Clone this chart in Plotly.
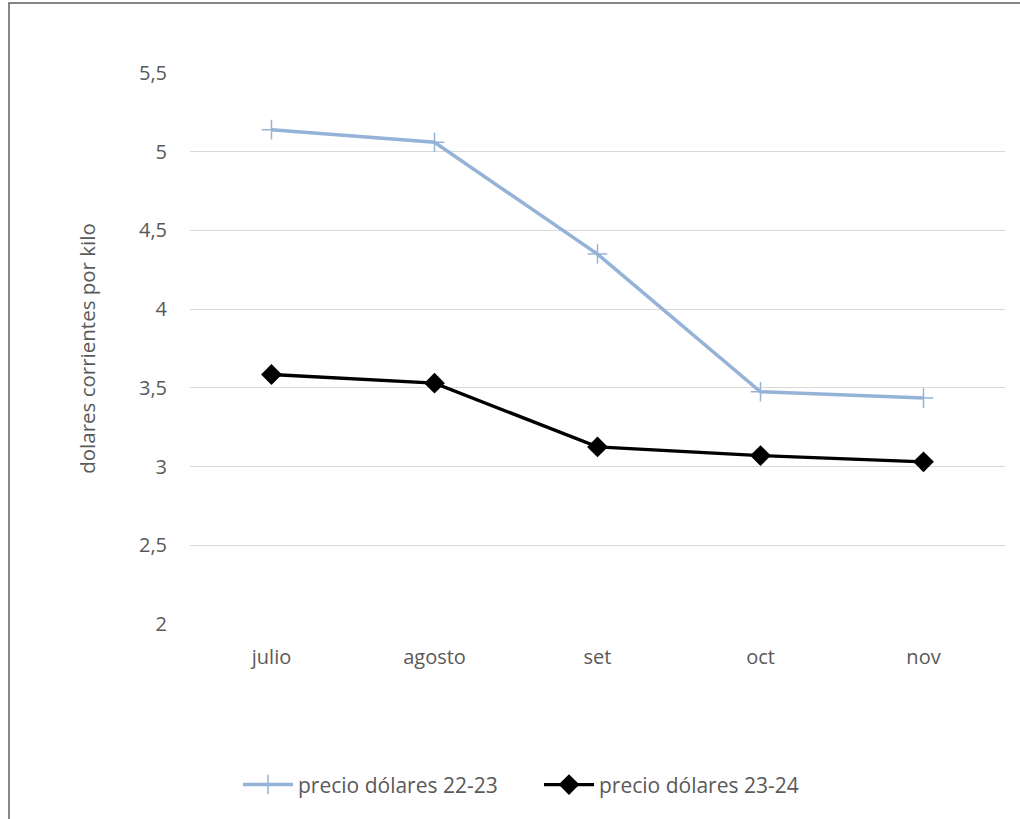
import plotly.graph_objects as go

MONTHS = ["julio", "agosto", "set", "oct", "nov"]
PRICE_22_23 = [5.14, 5.06, 4.35, 3.475, 3.435]
PRICE_23_24 = [3.585, 3.53, 3.125, 3.07, 3.03]
Y_TICKS = [2, 2.5, 3, 3.5, 4, 4.5, 5, 5.5]
Y_LABELS = ["2", "2,5", "3", "3,5", "4", "4,5", "5", "5,5"]

W, H = 1020, 819
M = dict(l=190, r=15, t=73, b=195)
TEXT = "#595959"
FONT = "Open Sans, Liberation Sans, sans-serif"

fig = go.Figure()
fig.add_trace(
    go.Scatter(
        x=MONTHS, y=PRICE_22_23, mode="lines+markers", name="precio dólares 22-23",
        line=dict(color="#95B3D7", width=3.5),
        marker=dict(symbol="cross-thin", size=14, line=dict(color="#95B3D7", width=1.5)),
    )
)
fig.add_trace(
    go.Scatter(
        x=MONTHS, y=PRICE_23_24, mode="lines+markers", name="precio dólares 23-24",
        line=dict(color="#000000", width=3.3),
        marker=dict(symbol="diamond", size=16, color="#000000"),
    )
)

# outer chart border (left and top edges visible in the picture)
pw = W - M["l"] - M["r"]
ph = H - M["t"] - M["b"]
fig.add_shape(
    type="rect", xref="paper", yref="paper",
    x0=(9 - M["l"]) / pw, x1=(1025 - M["l"]) / pw,
    y0=(H - M["b"] - 825) / ph, y1=(H - M["b"] - 3) / ph,
    line=dict(color="#5f5f5f", width=1.5), layer="below",
)

fig.update_xaxes(
    range=[-0.5, 4.5], showgrid=False, showline=False, ticks="",
    tickfont=dict(size=20, color=TEXT, family=FONT), ticklabelstandoff=19,
)
fig.update_yaxes(
    range=[2, 5.5], tickvals=Y_TICKS, ticktext=Y_LABELS, showgrid=True,
    gridcolor="#d9d9d9", gridwidth=1.3, zeroline=False, showline=False, ticks="",
    tickfont=dict(size=20, color=TEXT, family=FONT), ticklabelstandoff=22,
    title=dict(text="dolares corrientes por kilo", font=dict(size=20.5, color=TEXT, family=FONT),
               standoff=37),
)
fig.update_layout(
    width=W, height=H, margin=M, plot_bgcolor="white", paper_bgcolor="white",
    font=dict(family=FONT, color=TEXT),
    legend=dict(orientation="h", x=(238 - M["l"]) / pw, xanchor="left", y=-0.292,
                yanchor="middle", font=dict(size=21, color=TEXT, family=FONT),
                itemwidth=50, entrywidth=236),
    showlegend=True,
)
fig.write_html(
    "out.html",
    config={"displayModeBar": False},
    post_script="document.body.style.margin='0';",
)
